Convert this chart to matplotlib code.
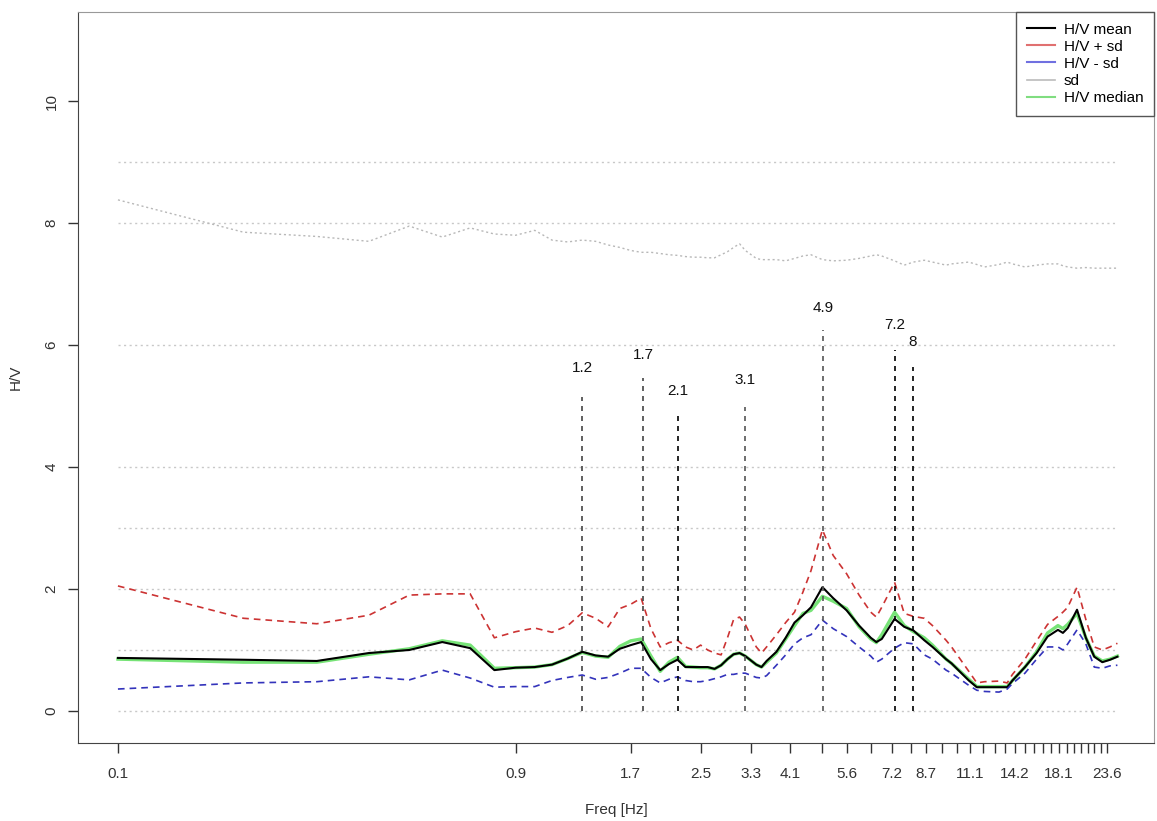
# H/V spectral ratio plot: mean, +/- sd, sd and median curves with picked peaks
import matplotlib
matplotlib.use('Agg')
import matplotlib.pyplot as plt
from matplotlib.lines import Line2D

plt.rcParams['font.family'] = ['Liberation Sans', 'DejaVu Sans']

# Frequencies (Hz) of the sampled curve points
freq = [0.1, 0.2, 0.3, 0.4, 0.5, 0.6, 0.7, 0.8, 0.9, 1.0, 1.1, 1.2, 1.3, 1.4, 1.5,
        1.6, 1.7, 1.8, 1.9, 2.0, 2.1, 2.2, 2.3, 2.4, 2.5, 2.6, 2.7, 2.8, 2.9, 3.0,
        3.1, 3.2, 3.4, 3.5, 3.6, 3.8, 4.0, 4.2, 4.4, 4.6, 4.9, 5.2, 5.6, 6.0, 6.4,
        6.6, 6.8, 7.3, 7.7, 8.1, 8.6, 9.0, 9.7, 10.0, 11.0, 11.5, 12.0, 13.0, 13.6,
        14.0, 15.0, 16.0, 17.0, 18.0, 18.5, 19.0, 20.0, 21.0, 22.0, 23.0, 24.0, 25.0]

hv_mean = [0.87, 0.84, 0.82, 0.95, 1.00, 1.13, 1.03, 0.67, 0.71, 0.72, 0.76, 0.86, 0.97, 0.91, 0.89,
           1.02, 1.08, 1.13, 0.85, 0.67, 0.77, 0.84, 0.72, 0.72, 0.72, 0.72, 0.69, 0.75, 0.85, 0.93,
           0.95, 0.90, 0.76, 0.72, 0.82, 0.97, 1.20, 1.45, 1.57, 1.70, 2.03, 1.85, 1.65, 1.40, 1.20,
           1.13, 1.18, 1.51, 1.38, 1.32, 1.16, 1.05, 0.85, 0.78, 0.50, 0.39, 0.39, 0.39, 0.39,
           0.50, 0.72, 0.95, 1.22, 1.33, 1.28, 1.36, 1.66, 1.20, 0.89, 0.80, 0.84, 0.89]

hv_median = [0.85, 0.80, 0.80, 0.93, 1.02, 1.15, 1.08, 0.70, 0.71, 0.72, 0.76, 0.86, 0.96, 0.90, 0.88,
             1.06, 1.15, 1.18, 0.90, 0.65, 0.80, 0.88, 0.73, 0.72, 0.71, 0.71, 0.69, 0.75, 0.85, 0.93,
             0.95, 0.90, 0.76, 0.72, 0.80, 0.95, 1.18, 1.40, 1.60, 1.65, 1.88, 1.80, 1.68, 1.38, 1.18,
             1.12, 1.25, 1.62, 1.40, 1.30, 1.20, 1.08, 0.85, 0.78, 0.52, 0.40, 0.40, 0.40, 0.40,
             0.50, 0.72, 0.97, 1.28, 1.40, 1.35, 1.42, 1.60, 1.20, 0.90, 0.82, 0.85, 0.90]

hv_plus_sd = [2.05, 1.52, 1.43, 1.57, 1.90, 1.92, 1.92, 1.20, 1.30, 1.36, 1.29, 1.40, 1.61, 1.52, 1.38,
              1.68, 1.75, 1.85, 1.35, 1.05, 1.12, 1.16, 1.05, 1.00, 1.08, 1.00, 0.95, 0.92, 1.20, 1.50,
              1.54, 1.42, 1.05, 0.95, 1.05, 1.25, 1.45, 1.62, 1.95, 2.30, 2.97, 2.55, 2.25, 1.90, 1.62,
              1.54, 1.70, 2.11, 1.60, 1.55, 1.52, 1.40, 1.16, 1.05, 0.65, 0.46, 0.48, 0.49, 0.46,
              0.60, 0.85, 1.15, 1.42, 1.55, 1.62, 1.70, 2.03, 1.50, 1.05, 1.00, 1.05, 1.11]

hv_minus_sd = [0.36, 0.46, 0.48, 0.56, 0.51, 0.67, 0.54, 0.39, 0.40, 0.40, 0.50, 0.55, 0.59, 0.52, 0.55,
               0.62, 0.70, 0.70, 0.55, 0.46, 0.52, 0.56, 0.50, 0.48, 0.48, 0.50, 0.53, 0.56, 0.60, 0.60,
               0.62, 0.62, 0.55, 0.54, 0.58, 0.75, 0.92, 1.10, 1.20, 1.25, 1.49, 1.35, 1.22, 1.05, 0.90,
               0.80, 0.85, 1.03, 1.12, 1.10, 0.92, 0.85, 0.67, 0.62, 0.42, 0.34, 0.32, 0.31, 0.36,
               0.45, 0.62, 0.85, 1.05, 1.05, 1.00, 1.10, 1.33, 1.10, 0.72, 0.70, 0.74, 0.75]

sd_curve = [8.38, 7.85, 7.78, 7.70, 7.95, 7.77, 7.92, 7.82, 7.80, 7.88, 7.72, 7.69, 7.72, 7.70, 7.64,
            7.60, 7.55, 7.52, 7.52, 7.50, 7.48, 7.47, 7.45, 7.44, 7.44, 7.43, 7.43, 7.48, 7.53, 7.60,
            7.66, 7.55, 7.42, 7.40, 7.40, 7.40, 7.38, 7.42, 7.46, 7.48, 7.40, 7.38, 7.39, 7.42, 7.46,
            7.48, 7.46, 7.38, 7.31, 7.36, 7.39, 7.36, 7.31, 7.33, 7.36, 7.32, 7.28, 7.32, 7.36,
            7.33, 7.28, 7.31, 7.33, 7.33, 7.30, 7.28, 7.26, 7.27, 7.26, 7.26, 7.26, 7.26]

# Picked peaks: position, label, top of the marker line
peak_freq = [1.30, 1.82, 2.21, 3.19, 4.92, 7.31, 8.08]
peak_labels = ['1.2', '1.7', '2.1', '3.1', '4.9', '7.2', '8']
peak_top = [5.15, 5.46, 4.85, 4.98, 6.25, 5.92, 5.64]
peak_label_y = [5.62, 5.84, 5.25, 5.43, 6.60, 6.33, 6.05]
peak_colors = ['#444444', '#444444', '#000000', '#555555', '#555555', '#000000', '#000000']

# Horizontal reference levels
ref_levels = [0, 1, 2, 3, 4, 6, 8, 9]

# X axis ticks and their labels
tick_freqs = [0.1, 0.9, 1.7, 2.5, 3.3, 4.1, 4.9, 5.6, 6.4, 7.2, 8.0, 8.7, 9.5, 10.3, 11.1,
              11.9, 12.7, 13.4, 14.2, 15.0, 15.8, 16.6, 17.3, 18.1, 18.9, 19.7, 20.4,
              21.2, 22.0, 22.8, 23.6]
tick_labels = ['0.1', '0.9', '1.7', '2.5', '3.3', '4.1', '', '5.6', '', '7.2', '', '8.7', '', '',
               '11.1', '', '', '', '14.2', '', '', '', '', '18.1', '', '', '', '', '', '', '23.6']

fig = plt.figure(figsize=(11.57, 8.21), dpi=100)
ax = fig.add_axes([78 / 1157, 78 / 821, 1076 / 1157, 731 / 821])
ax.set_xscale('log')

# dotted reference levels
ax.hlines(ref_levels, freq[0], freq[-1], colors='#c8c8c8', linestyles=(0, (1.5, 2.5)), linewidth=1)

ax.plot(freq, sd_curve, color='#b8b8b8', linestyle=(0, (1.5, 2)), linewidth=1)
ax.plot(freq, hv_median, color='#55dd55', linewidth=2.4, alpha=0.8)
ax.plot(freq, hv_mean, color='black', linewidth=1.5)
ax.plot(freq, hv_plus_sd, color='#cc3333', linestyle=(0, (4, 3)), linewidth=1.2)
ax.plot(freq, hv_minus_sd, color='#3333bb', linestyle=(0, (4, 3)), linewidth=1.2)

for f, lab, top, ly, c in zip(peak_freq, peak_labels, peak_top, peak_label_y, peak_colors):
    ax.vlines(f, 0, top, colors=c, linestyles=(0, (3, 3)), linewidth=1.2)
    ax.text(f, ly, lab, ha='center', va='center', fontsize=11, color='#111111')

ax.set_xlim(0.0802, 30.6)
ax.set_ylim(-0.525, 11.46)

ax.set_xticks(tick_freqs)
ax.set_xticklabels(tick_labels)
ax.xaxis.set_minor_locator(matplotlib.ticker.NullLocator())
ax.set_yticks([0, 2, 4, 6, 8, 10])
ax.tick_params(axis='x', length=7, width=1, pad=10, labelsize=11, colors='#333333')
ax.tick_params(axis='y', length=7, width=1, pad=7, labelsize=11, colors='#333333',
               labelrotation=90)
for lbl in ax.get_yticklabels():
    lbl.set_verticalalignment('center')

ax.set_xlabel('Freq [Hz]', fontsize=11, labelpad=16, color='#333333')
ax.set_ylabel('H/V', fontsize=11, labelpad=16, color='#333333')

for side in ['left', 'bottom']:
    ax.spines[side].set_color('#444444')
for side in ['top', 'right']:
    ax.spines[side].set_color('#999999')

handles = [Line2D([], [], color='black', linewidth=1.5),
           Line2D([], [], color='#e07070', linewidth=1.5),
           Line2D([], [], color='#7070e0', linewidth=1.5),
           Line2D([], [], color='#bbbbbb', linewidth=1.2),
           Line2D([], [], color='#80dd80', linewidth=1.5)]
leg = ax.legend(handles, ['H/V mean', 'H/V + sd', 'H/V - sd', 'sd', 'H/V median'],
                loc='upper right', bbox_to_anchor=(1, 1), borderaxespad=0, fontsize=11,
                fancybox=False, framealpha=1, edgecolor='#555555', labelspacing=0.2,
                handlelength=1.8, handletextpad=0.6, borderpad=0.7)
leg.get_frame().set_linewidth(1)

fig.savefig('out.png', dpi=100)
